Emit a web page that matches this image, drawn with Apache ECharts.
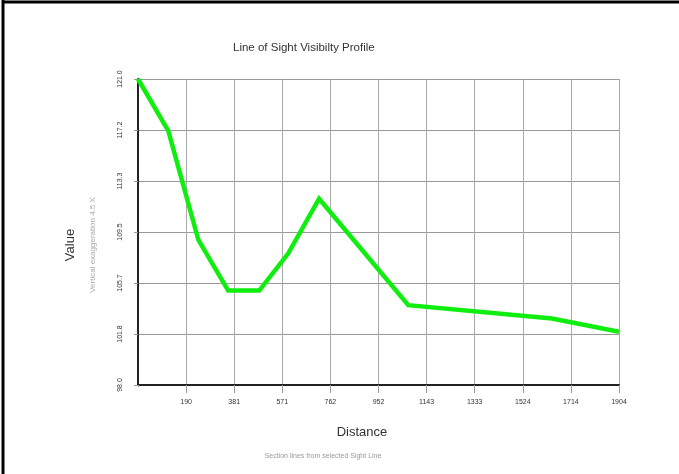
<!DOCTYPE html>
<html>
<head>
<meta charset="utf-8">
<script src="https://cdn.jsdelivr.net/npm/echarts@6/dist/echarts.min.js"></script>
<style>
html,body{margin:0;padding:0;background:#fff;}
#chart{width:679px;height:474px;}
</style>
</head>
<body>
<div id="chart"></div>
<script>
// Data
var distance = [0, 120, 239, 357, 480, 595, 717, 1070, 1639, 1904.4];
var elevation = [121.0, 117.1, 108.9, 105.1, 105.1, 107.9, 112.0, 104.0, 103.0, 102.0];
var xTickLabels = ['', '190', '381', '571', '762', '952', '1143', '1333', '1524', '1714', '1904'];
var yTickLabels = ['98.0', '101.8', '105.7', '109.5', '113.3', '117.2', '121.0'];
var xMin = 0, xMax = 1904.4, yMin = 98.0, yMax = 121.0;

var xStep = (xMax - xMin) / (xTickLabels.length - 1);
var yStep = (yMax - yMin) / (yTickLabels.length - 1);
var seriesData = distance.map(function (d, i) { return [d, elevation[i]]; });

var font = '"Liberation Sans", Arial, sans-serif';
var chart = echarts.init(document.getElementById('chart'), null, {renderer: 'canvas'});
chart.setOption({
  backgroundColor: '#ffffff',
  animation: false,
  grid: {left: 138, right: 60, top: 79, bottom: 89, containLabel: false},
  xAxis: {
    type: 'value', min: xMin, max: xMax, interval: xStep,
    axisLine: {show: true, lineStyle: {color: '#222', width: 2}},
    axisTick: {show: true, length: 8, lineStyle: {color: '#999', width: 1}},
    splitLine: {show: true, lineStyle: {color: '#aaa', width: 1}},
    axisLabel: {
      margin: 14, fontSize: 7, color: '#333', fontFamily: font,
      formatter: function (v) { var i = Math.round((v - xMin) / xStep); return xTickLabels[i] || ''; }
    }
  },
  yAxis: {
    type: 'value', min: yMin, max: yMax, interval: yStep,
    axisLine: {show: true, lineStyle: {color: '#222', width: 2}},
    axisTick: {show: true, length: 4, lineStyle: {color: '#999', width: 1}},
    splitLine: {show: true, lineStyle: {color: '#999', width: 1}},
    axisLabel: {
      rotate: 90, margin: 14, fontSize: 7, color: '#333', fontFamily: font,
      formatter: function (v) { var i = Math.round((v - yMin) / yStep); return yTickLabels[i] || ''; }
    }
  },
  series: [{
    type: 'line', data: seriesData, showSymbol: false, symbol: 'none',
    lineStyle: {color: '#10ee10', width: 4.5, join: 'miter'},
    z: 5
  }],
  graphic: [
    {type: 'rect', shape: {x: 135, y: 387, width: 5, height: 10}, style: {fill: '#fff'}, z: 100},
    {type: 'line', shape: {x1: 3, y1: 2, x2: 679, y2: 2}, style: {stroke: '#000', lineWidth: 3}},
    {type: 'line', shape: {x1: 3, y1: 0, x2: 3, y2: 474}, style: {stroke: '#000', lineWidth: 3}},
    {type: 'text', left: 233, top: 42, style: {text: 'Line of Sight Visibilty Profile', font: '11.5px ' + font, fill: '#333'}},
    {type: 'text', x: 70, y: 245, rotation: Math.PI / 2, style: {text: 'Value', font: '13px ' + font, fill: '#333', align: 'center', verticalAlign: 'middle'}},
    {type: 'text', x: 93, y: 245, rotation: Math.PI / 2, style: {text: 'Vertical exaggeration 4.5 X', font: '8px ' + font, fill: '#aaa', align: 'center', verticalAlign: 'middle'}},
    {type: 'text', x: 362, y: 432, style: {text: 'Distance', font: '13px ' + font, fill: '#333', align: 'center', verticalAlign: 'middle'}},
    {type: 'text', x: 323, y: 456, style: {text: 'Section lines from selected Sight Line', font: '7px ' + font, fill: '#999', align: 'center', verticalAlign: 'middle'}}
  ]
});
</script>
</body>
</html>
